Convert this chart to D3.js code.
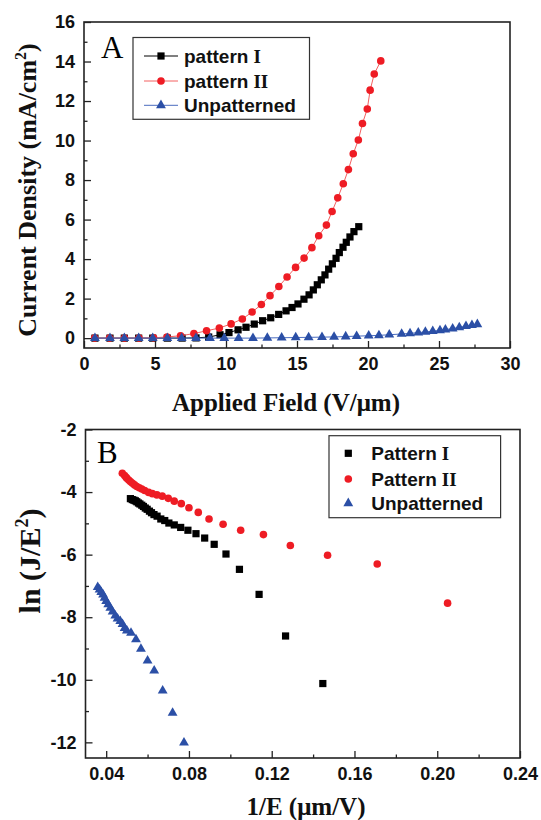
<!DOCTYPE html>
<html><head><meta charset="utf-8">
<script src="https://cdn.jsdelivr.net/npm/d3@7"></script>
<style>body{margin:0;background:#fff}</style></head>
<body>
<svg id="c" width="541" height="820"></svg>
<script>
// ---------- Panel A data (Applied field V/um vs current density mA/cm2) ----------
const fieldI = [0.77,1.83,2.84,3.85,4.84,5.87,6.91,7.89,8.78,9.58,10.21,10.85,11.41,11.99,12.58,13.15,13.71,14.23,14.65,15.07,15.49,15.85,16.15,16.43,16.71,16.97,17.23,17.49,17.75,17.98,18.24,18.47,18.73,19.01,19.35];
const jI     = [0,0,0,0,0,0,0.002,0.011,0.055,0.17,0.28,0.42,0.55,0.71,0.88,1.03,1.20,1.38,1.55,1.73,1.97,2.19,2.44,2.70,2.95,3.20,3.49,3.76,4.04,4.33,4.60,4.85,5.12,5.39,5.64];
const fieldII = [0.75,1.8,2.85,3.87,4.9,5.85,6.8,7.74,8.63,9.53,10.36,11.15,11.84,12.49,13.1,13.72,14.3,14.9,15.5,16.05,16.53,17.07,17.47,17.87,18.26,18.62,18.96,19.32,19.61,19.95,20.15,20.44,20.9];
const jII     = [0,0,0,0,0.013,0.06,0.12,0.23,0.37,0.51,0.72,0.97,1.32,1.70,2.15,2.61,3.09,3.58,4.05,4.58,5.18,5.72,6.41,7.10,7.81,8.53,9.33,10.03,10.86,11.60,12.55,13.37,14.03];
const fieldU = [0.77,1.83,2.84,3.85,4.84,5.87,6.88,7.89,8.87,9.88,10.89,11.9,12.91,13.92,14.91,15.82,16.76,17.61,18.43,19.2,20.05,20.77,21.5,22.37,22.96,23.54,24.04,24.56,25.07,25.45,25.96,26.43,26.9,27.32,27.7];
const jU     = [0,0,0,0,0,0,0,0,0,0,0,0,0.01,0.02,0.03,0.04,0.05,0.06,0.08,0.10,0.12,0.14,0.17,0.21,0.24,0.28,0.31,0.35,0.39,0.43,0.48,0.54,0.60,0.65,0.70];

// ---------- Panel B data (1/E um/V vs ln(J/E^2)) ----------
const invI = [0.0517,0.0526,0.0534,0.0541,0.0548,0.0556,0.0563,0.0572,0.058,0.0589,0.0598,0.0609,0.0619,0.0631,0.0646,0.0664,0.0683,0.0703,0.0729,0.076,0.0795,0.0834,0.0876,0.0922,0.0979,0.1044,0.1139,0.1267,0.1447];
const lnI  = [-4.21,-4.24,-4.26,-4.28,-4.31,-4.35,-4.38,-4.42,-4.46,-4.51,-4.55,-4.61,-4.66,-4.72,-4.77,-4.86,-4.91,-4.99,-5.05,-5.13,-5.22,-5.33,-5.47,-5.67,-5.98,-6.47,-7.27,-8.6,-10.12];
const invII = [0.0478,0.0489,0.0496,0.0501,0.051,0.0518,0.0527,0.0537,0.0548,0.056,0.0572,0.0586,0.0605,0.0623,0.0645,0.0671,0.07,0.0729,0.0763,0.08,0.0845,0.0897,0.0965,0.105,0.116,0.129,0.147,0.171,0.205];
const lnII  = [-3.40,-3.47,-3.53,-3.57,-3.62,-3.67,-3.72,-3.77,-3.82,-3.86,-3.90,-3.95,-4.01,-4.05,-4.09,-4.13,-4.20,-4.29,-4.37,-4.50,-4.65,-4.86,-5.03,-5.22,-5.36,-5.71,-6.02,-6.30,-7.55];
const invU = [0.0359,0.0368,0.0376,0.0385,0.0392,0.040,0.041,0.042,0.0431,0.0444,0.0455,0.0468,0.0479,0.0489,0.050,0.052,0.0544,0.0568,0.060,0.0632,0.0673,0.0721,0.0776];
const lnU  = [-7.04,-7.12,-7.2,-7.28,-7.38,-7.49,-7.59,-7.7,-7.82,-7.95,-8.05,-8.13,-8.22,-8.35,-8.43,-8.5,-8.71,-9.01,-9.39,-9.71,-10.35,-11.06,-12.01];

// ---------- ticks ----------
const xTicksA = [0,5,10,15,20,25,30];
const xMinorA = [2.5,7.5,12.5,17.5,22.5,27.5];
const yTicksA = [0,2,4,6,8,10,12,14,16];
const yMinorA = [1,3,5,7,9,11,13,15];
const xTicksB = [0.04,0.08,0.12,0.16,0.20,0.24];
const xMinorB = [0.06,0.10,0.14,0.18,0.22];
const yTicksB = [-2,-4,-6,-8,-10,-12];
const yMinorB = [-3,-5,-7,-9,-11];

const legendA = ["pattern", "pattern", "Unpatterned"];
const legendANum = ["I", "II", ""];
const legendB = ["Pattern", "Pattern", "Unpatterned"];
const legendBNum = ["I", "II", ""];

const COL = {black:"#000000", red:"#ee1c24", blue:"#2b4fa6"};
const LINE = {black:"#000000", red:"#f36060", blue:"#4a6cbf"};
const SANS = "'Liberation Sans', Arial, sans-serif";
const SERIF = "'Liberation Serif', 'Times New Roman', serif";

const svg = d3.select("#c");
svg.append("rect").attr("width",541).attr("height",820).attr("fill","#fff");

function marker(g, type, cx, cy, color){
  if(type==="square"){
    g.append("rect").attr("x",cx-3.6).attr("y",cy-3.6).attr("width",7.2).attr("height",7.2).attr("fill",color);
  } else if(type==="circle"){
    g.append("circle").attr("cx",cx).attr("cy",cy).attr("r",3.8).attr("fill",color);
  } else {
    g.append("path").attr("d", d3.symbol().type(d3.symbolTriangle).size(42)()).attr("transform",`translate(${cx},${cy})`).attr("fill",color);
  }
}

function axes(g, x, y, o){
  const [xl,xr] = x.range(), [yb,yt] = y.range();
  const style = s => { s.select(".domain").remove(); s.selectAll("line").attr("stroke","#222").attr("stroke-width",1.3);
    s.selectAll("text").attr("font-family",SANS).attr("font-weight","bold").attr("font-size",18).attr("fill","#111"); };
  g.append("g").attr("transform",`translate(0,${yb})`).call(d3.axisBottom(x).tickValues(o.xMinor).tickSize(-3.5).tickFormat("")).call(style);
  g.append("g").attr("transform",`translate(0,${yb})`).call(d3.axisBottom(x).tickValues(o.xMajor).tickSize(-7).tickPadding(9).tickFormat(o.xFmt)).call(style);
  g.append("g").attr("transform",`translate(${xl},0)`).call(d3.axisLeft(y).tickValues(o.yMinor).tickSize(-3.5).tickFormat("")).call(style);
  g.append("g").attr("transform",`translate(${xl},0)`).call(d3.axisLeft(y).tickValues(o.yMajor).tickSize(-7).tickPadding(9).tickFormat(o.yFmt)).call(style);
  g.append("rect").attr("x",xl).attr("y",yt).attr("width",xr-xl).attr("height",yb-yt)
    .attr("fill","none").attr("stroke","#222").attr("stroke-width",1.6);
}

// ================= Panel A =================
const xA = d3.scaleLinear().domain([0,30]).range([84,510]);
const yA = d3.scaleLinear().domain([-0.5,16]).range([348,22]);
const gA = svg.append("g");
const seriesA = [
  {xs:fieldI, ys:jI, type:"square", c:"black"},
  {xs:fieldII, ys:jII, type:"circle", c:"red"},
  {xs:fieldU, ys:jU, type:"triangle", c:"blue"}
];
seriesA.forEach(s=>{
  const pts = s.xs.map((v,i)=>[v,s.ys[i]]);
  gA.append("path").attr("d", d3.line().x(d=>xA(d[0])).y(d=>yA(d[1]))(pts))
    .attr("fill","none").attr("stroke",LINE[s.c]).attr("stroke-width",1);
  const mg = gA.append("g");
  pts.forEach(d=>marker(mg, s.type, xA(d[0]), yA(d[1]), COL[s.c]));
});
axes(gA, xA, yA, {xMajor:xTicksA, xMinor:xMinorA, yMajor:yTicksA, yMinor:yMinorA,
  xFmt:d=>String(d), yFmt:d=>String(d)});

gA.append("text").attr("x",101).attr("y",58).attr("font-family",SERIF).attr("font-size",31).text("A");

// legend A
gA.append("rect").attr("x",133).attr("y",37.5).attr("width",176.5).attr("height",81.8)
  .attr("fill","#fff").attr("stroke","#333").attr("stroke-width",1.2);
const legYA = [56, 81, 105.3];
seriesA.forEach((s,i)=>{
  gA.append("line").attr("x1",144).attr("x2",178).attr("y1",legYA[i]).attr("y2",legYA[i]).attr("stroke",LINE[s.c]).attr("stroke-width",1);
  marker(gA, s.type, 161, legYA[i], COL[s.c]);
  const t = gA.append("text").attr("x",184).attr("y",legYA[i]+6.5).attr("font-family",SANS).attr("font-weight","bold").attr("font-size",19).attr("fill","#111");
  t.append("tspan").text(legendA[i]);
  if(legendANum[i]) t.append("tspan").attr("font-family",SERIF).attr("dx",5).text(legendANum[i]);
});

gA.append("text").attr("x",286).attr("y",411).attr("text-anchor","middle").attr("font-family",SERIF)
  .attr("font-weight","bold").attr("font-size",25).attr("fill","#111").text("Applied Field (V/\u03bcm)");
const tA = gA.append("text").attr("transform","translate(36,190) rotate(-90)").attr("text-anchor","middle")
  .attr("font-family",SERIF).attr("font-weight","bold").attr("font-size",26).attr("fill","#111");
tA.append("tspan").text("Current Density (mA/cm");
tA.append("tspan").attr("font-size",16).attr("dy",-10).text("2");
tA.append("tspan").attr("dy",10).text(")");

// ================= Panel B =================
const xB = d3.scaleLinear().domain([0.03,0.24]).range([85.5,520]);
const yB = d3.scaleLinear().domain([-12.5,-2]).range([758,429.5]);
const gB = svg.append("g");
const seriesB = [
  {xs:invI, ys:lnI, type:"square", c:"black"},
  {xs:invII, ys:lnII, type:"circle", c:"red"},
  {xs:invU, ys:lnU, type:"triangle", c:"blue"}
];
seriesB.forEach(s=>{
  const mg = gB.append("g");
  s.xs.forEach((v,i)=>marker(mg, s.type, xB(v), yB(s.ys[i]), COL[s.c]));
});
axes(gB, xB, yB, {xMajor:xTicksB, xMinor:xMinorB, yMajor:yTicksB, yMinor:yMinorB,
  xFmt:d=>d.toFixed(2), yFmt:d=>String(d)});

gB.append("text").attr("x",97).attr("y",462.5).attr("font-family",SERIF).attr("font-size",31).text("B");

gB.append("rect").attr("x",329).attr("y",435.7).attr("width",171.6).attr("height",82)
  .attr("fill","#fff").attr("stroke","#333").attr("stroke-width",1.2);
const legYB = [453.3, 479, 503.3];
seriesB.forEach((s,i)=>{
  marker(gB, s.type, 348.3, legYB[i], COL[s.c]);
  const t = gB.append("text").attr("x",371.3).attr("y",legYB[i]+6.5).attr("font-family",SANS).attr("font-weight","bold").attr("font-size",19).attr("fill","#111");
  t.append("tspan").text(legendB[i]);
  if(legendBNum[i]) t.append("tspan").attr("font-family",SERIF).attr("dx",5).text(legendBNum[i]);
});

gB.append("text").attr("x",306).attr("y",815).attr("text-anchor","middle").attr("font-family",SERIF)
  .attr("font-weight","bold").attr("font-size",25).attr("fill","#111").text("1/E (\u03bcm/V)");
const tB = gB.append("text").attr("transform","translate(39.5,561) rotate(-90)").attr("text-anchor","middle")
  .attr("font-family",SERIF).attr("font-weight","bold").attr("font-size",30).attr("fill","#111");
tB.append("tspan").text("ln (J/E");
tB.append("tspan").attr("font-size",18).attr("dy",-12).text("2");
tB.append("tspan").attr("dy",12).text(")");
</script>
</body></html>
